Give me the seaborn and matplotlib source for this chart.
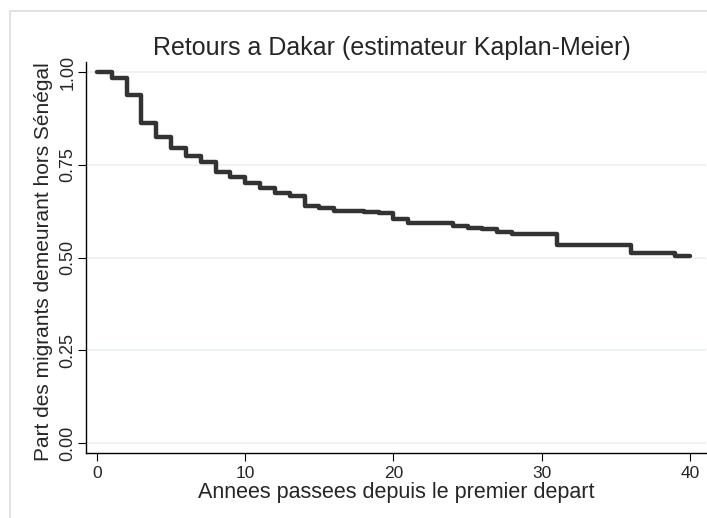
import seaborn as sns
import pandas as pd
import matplotlib.pyplot as plt
from matplotlib.patches import Rectangle

# Kaplan-Meier estimate (step changes at each time)
annees = [0, 1, 2, 3, 4, 5, 6, 7, 8, 9, 10, 11, 12, 13, 14, 15, 16, 18, 19,
          20, 21, 24, 25, 26, 27, 28, 31, 36, 39, 40]
survie = [1.000, 0.983, 0.938, 0.863, 0.824, 0.794, 0.774, 0.758, 0.731,
          0.718, 0.700, 0.687, 0.673, 0.667, 0.638, 0.633, 0.626, 0.623,
          0.619, 0.604, 0.592, 0.584, 0.580, 0.577, 0.569, 0.563, 0.534,
          0.511, 0.504, 0.504]
xticks = [0, 10, 20, 30, 40]
yticks = [0.00, 0.25, 0.50, 0.75, 1.00]

km = pd.DataFrame({'annees': annees, 'survie': survie})

sns.set_style('white')
plt.rcParams['font.family'] = ['Liberation Sans', 'DejaVu Sans']

fig = plt.figure(figsize=(7.07, 5.18), dpi=100)
ax = fig.add_axes([86/707, 1 - 453/518, 620/707, 391/518])

# light frame around the graph region, cut by the image edges
fig.patches.append(Rectangle((10/707, -0.1), 1.2, 0.1 + (1 - 11/518),
                             transform=fig.transFigure, fill=False,
                             edgecolor='#dcdcdc', linewidth=1.2))

sns.lineplot(data=km, x='annees', y='survie', ax=ax, drawstyle='steps-post',
             color='#333333', linewidth=3.2, solid_capstyle='round')

ax.set_xlim(-0.74, 41.08)
ax.set_ylim(-0.027, 1.027)
ax.set_xticks(xticks)
ax.set_yticks(yticks)
ax.set_yticklabels([f'{v:.2f}' for v in yticks], rotation=90, va='center')
ax.tick_params(axis='both', direction='out', length=6, width=0.8,
               color='black', pad=3, bottom=True, left=True)
ax.tick_params(axis='x', labelsize=12.5)
ax.tick_params(axis='y', labelsize=13, pad=1)
ax.grid(axis='y', color='#eaf0f2', linewidth=1.2)
ax.grid(axis='x', visible=False)

for s in ['top', 'right']:
    ax.spines[s].set_visible(False)
for s in ['left', 'bottom']:
    ax.spines[s].set_color('black')
    ax.spines[s].set_linewidth(1.0)

ax.set_xlabel('Annees passees depuis le premier depart', fontsize=15.5, labelpad=1)
ax.set_ylabel('Part des migrants demeurant hors Sénégal', fontsize=15, labelpad=0)
ax.yaxis.set_label_coords(-0.053, 0.49)
fig.text(392/707, 1 - 48/518, 'Retours a Dakar (estimateur Kaplan-Meier)',
         ha='center', va='center', fontsize=18)

fig.savefig('out.png', dpi=100, facecolor='white')
